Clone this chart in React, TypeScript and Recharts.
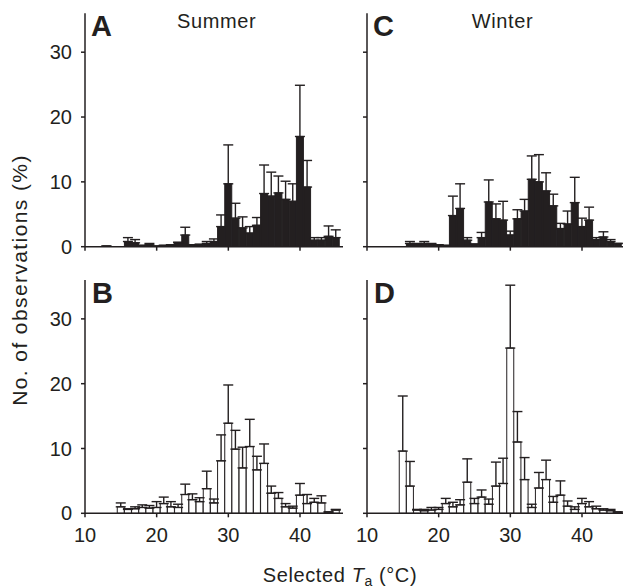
import { ComposedChart, Bar, ErrorBar, XAxis, YAxis } from "recharts";

// bin centres (°C), one bar per degree
const temps = [
  13, 14, 15, 16, 17, 18, 19, 20, 21, 22, 23, 24, 25, 26, 27, 28, 29, 30, 31,
  32, 33, 34, 35, 36, 37, 38, 39, 40, 41, 42, 43, 44, 45,
];

// A – summer, filled bars
const summerFilled = [
  0.1, 0, 0, 0.8, 0.6, 0.2, 0.3, 0.1, 0.2, 0.3, 0.6, 1.8, 0.3, 0.3, 0.5, 0.8,
  3.1, 9.7, 4.4, 2.9, 2.1, 3.3, 8.2, 7.8, 8.3, 7.3, 7.0, 17.0, 9.2, 1.0, 1.0,
  1.6, 1.4,
];
const summerFilledSe = [
  0, 0, 0, 0.6, 0.5, 0, 0.2, 0, 0, 0, 0.1, 1.2, 0, 0.1, 0.3, 0.4, 1.8, 6.0,
  2.3, 1.7, 1.0, 1.2, 4.4, 3.7, 2.6, 2.8, 2.7, 7.9, 4.1, 0.4, 0.4, 1.6, 1.2,
];

// B – summer, open bars
const summerOpen = [
  0, 0, 1.0, 0.6, 0.7, 0.9, 0.8, 0.9, 1.5, 1.0, 0.9, 2.9, 2.1, 1.8, 3.8, 1.6,
  8.1, 13.9, 9.9, 7.0, 10.3, 6.7, 7.7, 3.1, 2.3, 1.0, 0.8, 2.8, 1.5, 1.7, 1.6,
  0.2, 0.5,
];
const summerOpenSe = [
  0, 0, 0.6, 0.1, 0.3, 0.4, 0.4, 0.9, 1.0, 0.8, 0.5, 1.6, 0.9, 0.6, 2.7, 0.6,
  4.0, 5.9, 2.9, 3.2, 4.2, 2.1, 3.0, 1.1, 0.9, 0.5, 0.3, 1.8, 1.4, 0.6, 1.1,
  0, 0.1,
];

// C – winter, filled bars
const winterFilled = [
  0, 0, 0, 0.5, 0.4, 0.5, 0.4, 0.3, 0.2, 4.8, 5.9, 1.0, 0.4, 1.4, 6.9, 4.3,
  4.1, 1.8, 4.3, 5.5, 10.4, 10.0, 8.6, 6.3, 2.8, 3.5, 6.8, 3.1, 4.1, 1.1, 1.5,
  0.8, 0.5,
];
const winterFilledSe = [
  0, 0, 0, 0.3, 0.1, 0.3, 0.1, 0, 0, 3.0, 3.8, 0.4, 0, 0.8, 3.4, 2.3, 2.9, 0.6,
  1.4, 1.8, 3.6, 4.2, 2.8, 1.8, 0.8, 2.0, 3.9, 1.3, 2.0, 0.3, 0.8, 0.3, 0,
];

// D – winter, open bars
const winterOpen = [
  0, 0, 9.6, 4.2, 0.5, 0.4, 0.5, 0.6, 1.5, 1.0, 1.3, 4.8, 1.5, 2.5, 1.4, 4.2,
  4.6, 25.5, 11.0, 5.2, 0.9, 3.9, 5.2, 1.7, 2.8, 1.1, 0.6, 1.5, 1.0, 0.7, 0.5,
  0.4, 0.2,
];
const winterOpenSe = [
  0, 0, 8.5, 3.8, 0.1, 0.2, 0.4, 0.3, 0.8, 0.7, 0.8, 3.6, 0.8, 1.1, 0.8, 3.7,
  3.9, 9.7, 4.7, 3.4, 0.5, 2.4, 3.0, 0.9, 2.2, 0.8, 0.4, 0.8, 0.8, 0.4, 0.2,
  0.2, 0,
];

const xTicks = [10, 20, 30, 40];
const yTicks = [0, 10, 20, 30];

const INK = "#231f20";
const FONT = "'Liberation Sans', Arial, Helvetica, sans-serif";

interface PanelProps {
  values: number[];
  se: number[];
  filled: boolean;
  left: number;
  top: number;
  height: number;
  marginTop: number;
  xAxisHeight: number;
  yLabels: boolean;
  xLabels: boolean;
}

function Panel({
  values,
  se,
  filled,
  left,
  top,
  height,
  marginTop,
  xAxisHeight,
  yLabels,
  xLabels,
}: PanelProps) {
  const data = temps.map((t, i) => ({ t, v: values[i], e: [0, se[i]] }));
  const axisStyle = { stroke: INK, strokeWidth: 1.5 };
  const labelStyle = { fill: INK, fontSize: 20, fontFamily: FONT };

  return (
    <div style={{ position: "absolute", left, top }}>
      <ComposedChart
        width={345}
        height={height}
        data={data}
        margin={{ top: marginTop, right: 2, bottom: 0, left: 0 }}
        barCategoryGap={0}
        barGap={0}
      >
        <XAxis
          dataKey="t"
          type="number"
          domain={[10, 46]}
          ticks={xTicks}
          interval={0}
          height={xAxisHeight}
          tickSize={4}
          tickMargin={10}
          axisLine={axisStyle}
          tickLine={axisStyle}
          tick={xLabels ? labelStyle : () => <g />}
          allowDataOverflow
        />
        <YAxis
          type="number"
          domain={[0, 36]}
          ticks={yTicks}
          interval={0}
          width={85}
          tickSize={4}
          tickMargin={9}
          axisLine={axisStyle}
          tickLine={axisStyle}
          tick={yLabels ? labelStyle : () => <g />}
          allowDataOverflow
        />
        <Bar
          dataKey="v"
          fill={filled ? INK : "#ffffff"}
          stroke={INK}
          strokeWidth={1}
          isAnimationActive={false}
        >
          <ErrorBar
            dataKey="e"
            direction="y"
            width={5}
            stroke={INK}
            strokeWidth={1.4}
          />
        </Bar>
      </ComposedChart>
    </div>
  );
}

export default function App() {
  return (
    <div
      style={{
        position: "absolute",
        left: 0,
        top: 0,
        width: 623,
        height: 588,
        overflow: "hidden",
        background: "#ffffff",
        fontFamily: FONT,
      }}
    >
      <Panel
        values={summerFilled}
        se={summerFilledSe}
        filled
        left={0}
        top={0}
        height={260}
        marginTop={13.3}
        xAxisHeight={13.3}
        yLabels
        xLabels={false}
      />
      <Panel
        values={winterFilled}
        se={winterFilledSe}
        filled
        left={281.7}
        top={0}
        height={260}
        marginTop={13.3}
        xAxisHeight={13.3}
        yLabels={false}
        xLabels={false}
      />
      <Panel
        values={summerOpen}
        se={summerOpenSe}
        filled={false}
        left={0}
        top={260}
        height={300}
        marginTop={20}
        xAxisHeight={46.7}
        yLabels
        xLabels
      />
      <Panel
        values={winterOpen}
        se={winterOpenSe}
        filled={false}
        left={281.7}
        top={260}
        height={300}
        marginTop={20}
        xAxisHeight={46.7}
        yLabels={false}
        xLabels
      />

      <svg
        width={623}
        height={588}
        style={{ position: "absolute", left: 0, top: 0, pointerEvents: "none" }}
        fontFamily={FONT}
        fill={INK}
      >
        <text x={91} y={36} fontSize={29} fontWeight="bold">A</text>
        <text x={92} y={303} fontSize={29} fontWeight="bold">B</text>
        <text x={373} y={36} fontSize={29} fontWeight="bold">C</text>
        <text x={374} y={303} fontSize={29} fontWeight="bold">D</text>

        <text x={216.7} y={27.5} fontSize={20} letterSpacing={0.6} textAnchor="middle">
          Summer
        </text>
        <text x={502.5} y={27.5} fontSize={20} letterSpacing={0.6} textAnchor="middle">
          Winter
        </text>

        <text x={340} y={582} fontSize={20} letterSpacing={0.6} textAnchor="middle">
          Selected{" "}
          <tspan fontStyle="italic">T</tspan>
          <tspan fontSize={14} dy={4}>a</tspan>
          <tspan dy={-4}> (°C)</tspan>
        </text>
        <text
          x={0}
          y={0}
          fontSize={21}
          letterSpacing={1.4}
          textAnchor="middle"
          transform="translate(27 280) rotate(-90)"
        >
          No. of observations (%)
        </text>
      </svg>
    </div>
  );
}
